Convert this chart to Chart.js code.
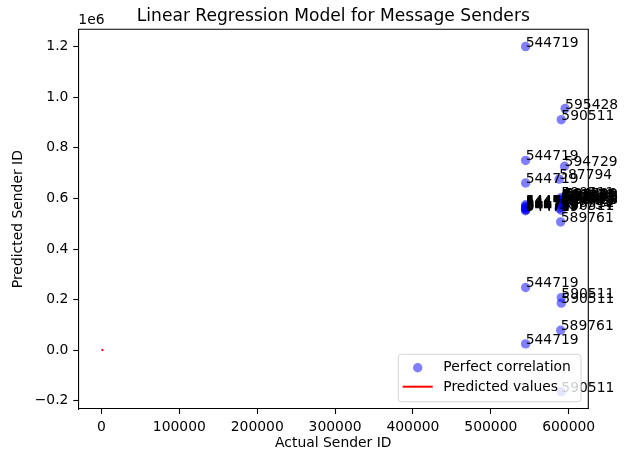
<!DOCTYPE html>
<html>
<head>
<meta charset="utf-8">
<script src="https://cdn.jsdelivr.net/npm/chart.js@4/dist/chart.umd.min.js"></script>
<style>
body { margin: 0; background: #fff; }
#wrap { width: 627px; height: 454px; }
</style>
</head>
<body>
<div id="wrap"><canvas id="myChart" width="627" height="454"></canvas></div>
<script>
// actual sender id of each message and what the model predicted
var actualIds = [
    544719, 595428, 590511, 544719, 594729, 587794, 544719,
    544719, 544719, 544719, 544719, 544719, 544719, 544719, 544719,
    590511, 594729, 595428, 591873, 593102, 590511, 594729, 595428, 589761, 593102,
    591873, 590511, 595428, 594729, 589761, 590511, 587794, 590511,
    589761, 544719, 590511, 590511, 589761, 544719, 590511
];
var predictedIds = [
    1200000, 955000, 911000, 750000, 727000, 676000, 661000,
    575000, 570000, 566000, 563000, 560000, 557000, 554000, 551000,
    604000, 601000, 599000, 597000, 595000, 593000, 591000, 589000, 587000, 585000,
    583000, 581000, 579000, 577000, 575000, 566000, 560000, 553000,
    507000, 248000, 208000, 186000, 79000, 25000, -164000
];
// the red "predicted values" line (sits near the origin)
var lineX = [0, 2500];
var lineY = [0, 2500];

var xTicks = [0, 100000, 200000, 300000, 400000, 500000, 600000];
var yTicks = [-200000, 0, 200000, 400000, 600000, 800000, 1000000, 1200000];

var FONT = '"DejaVu Sans", sans-serif';

// matplotlib style autoscale: 5% margin
function limits(vals) {
    var lo = Math.min.apply(null, vals), hi = Math.max.apply(null, vals);
    var pad = (hi - lo) * 0.05;
    return [lo - pad, hi + pad];
}
var xLim = limits(actualIds.concat(lineX));
var yLim = limits(predictedIds.concat(lineY));

var scatterPts = actualIds.map(function (x, i) { return { x: x, y: predictedIds[i] }; });
var linePts = lineX.map(function (x, i) { return { x: x, y: lineY[i] }; });

var extras = {
    id: 'extras',
    afterDatasetsDraw: function (chart) {
        var ctx = chart.ctx, a = chart.chartArea;
        ctx.save();
        // top / right spines
        ctx.strokeStyle = '#000';
        ctx.lineWidth = 1.1;
        ctx.beginPath();
        ctx.moveTo(a.left, a.top);
        ctx.lineTo(a.right, a.top);
        ctx.lineTo(a.right, a.bottom);
        ctx.stroke();
        // point annotations
        ctx.font = '13.9px ' + FONT;
        ctx.fillStyle = '#000';
        ctx.textAlign = 'left';
        ctx.textBaseline = 'alphabetic';
        chart.getDatasetMeta(0).data.forEach(function (pt, i) {
            ctx.fillText(String(actualIds[i]), pt.x, pt.y);
        });
        ctx.restore();
    },
    afterDraw: function (chart) {
        var ctx = chart.ctx, a = chart.chartArea;
        ctx.save();
        // title
        ctx.fillStyle = '#000';
        ctx.font = '17.1px ' + FONT;
        ctx.textAlign = 'center';
        ctx.textBaseline = 'alphabetic';
        ctx.fillText('Linear Regression Model for Message Senders', (a.left + a.right) / 2, a.top - 8.3);
        // offset text
        ctx.font = '13.9px ' + FONT;
        ctx.textAlign = 'left';
        ctx.fillText('1e6', a.left, a.top - 5);

        // legend
        var ds = chart.data.datasets;
        var bx = 398.3, by = 354.3, bw = 182.7, bh = 47.4;
        ctx.beginPath();
        ctx.roundRect(bx, by, bw, bh, 3);
        ctx.fillStyle = 'rgba(255,255,255,0.8)';
        ctx.fill();
        ctx.strokeStyle = 'rgba(204,204,204,0.8)';
        ctx.lineWidth = 1;
        ctx.stroke();

        ctx.fillStyle = ds[0].backgroundColor;
        ctx.beginPath();
        ctx.arc(bx + 19.4, by + 13.4, 4.7, 0, Math.PI * 2);
        ctx.fill();

        ctx.strokeStyle = ds[1].borderColor;
        ctx.lineWidth = 2;
        ctx.beginPath();
        ctx.moveTo(bx + 4.4, by + 32.4);
        ctx.lineTo(bx + 34.4, by + 32.4);
        ctx.stroke();

        ctx.fillStyle = '#000';
        ctx.font = '13.9px ' + FONT;
        ctx.fillText(ds[0].label, bx + 45, by + 16.2);
        ctx.fillText(ds[1].label, bx + 45, by + 36.7);
        ctx.restore();
    }
};

const ctx = document.getElementById('myChart');
new Chart(ctx, {
    type: 'scatter',
    data: {
        datasets: [{
            label: 'Perfect correlation',
            data: scatterPts,
            backgroundColor: 'rgba(0,0,255,0.5)',
            borderWidth: 0,
            pointRadius: 4.7,
            pointHoverRadius: 4.7
        }, {
            type: 'line',
            label: 'Predicted values',
            data: linePts,
            borderColor: 'red',
            borderWidth: 2,
            pointRadius: 0,
            fill: false
        }]
    },
    options: {
        responsive: false,
        animation: false,
        devicePixelRatio: 1,
        layout: { padding: { top: 29.3, right: 38.7, left: 0, bottom: 0 } },
        plugins: {
            legend: { display: false },
            title: { display: false },
            tooltip: { enabled: false }
        },
        scales: {
            x: {
                type: 'linear',
                min: xLim[0],
                max: xLim[1],
                afterBuildTicks: function (s) { s.ticks = xTicks.map(function (v) { return { value: v }; }); },
                afterFit: function (s) { s.height = 45; s.paddingLeft = 0; s.paddingRight = 0; },
                grid: { drawOnChartArea: false, tickLength: 5, tickWidth: 1.1, tickColor: '#000' },
                border: { display: true, color: '#000', width: 1.1 },
                ticks: {
                    color: '#000',
                    padding: 4.9,
                    maxRotation: 0,
                    autoSkip: false,
                    font: { family: FONT, size: 13.9 },
                    callback: function (v) { return String(v); }
                },
                title: {
                    display: true,
                    text: 'Actual Sender ID',
                    color: '#000',
                    font: { family: FONT, size: 13.9 },
                    padding: { top: 0, bottom: 2 }
                }
            },
            y: {
                type: 'linear',
                min: yLim[0],
                max: yLim[1],
                afterBuildTicks: function (s) { s.ticks = yTicks.map(function (v) { return { value: v }; }); },
                afterFit: function (s) { s.width = 78.3; s.paddingTop = 0; s.paddingBottom = 0; },
                grid: { drawOnChartArea: false, tickLength: 5, tickWidth: 1.1, tickColor: '#000' },
                border: { display: true, color: '#000', width: 1.1 },
                ticks: {
                    color: '#000',
                    padding: 4.9,
                    autoSkip: false,
                    font: { family: FONT, size: 13.9 },
                    callback: function (v) { return (v / 1e6).toFixed(1).replace('-', '\u2212'); }
                },
                title: {
                    display: true,
                    text: 'Predicted Sender ID',
                    color: '#000',
                    font: { family: FONT, size: 13.9 },
                    padding: { top: 10, bottom: 0 }
                }
            }
        }
    },
    plugins: [extras]
});
</script>
</body>
</html>
